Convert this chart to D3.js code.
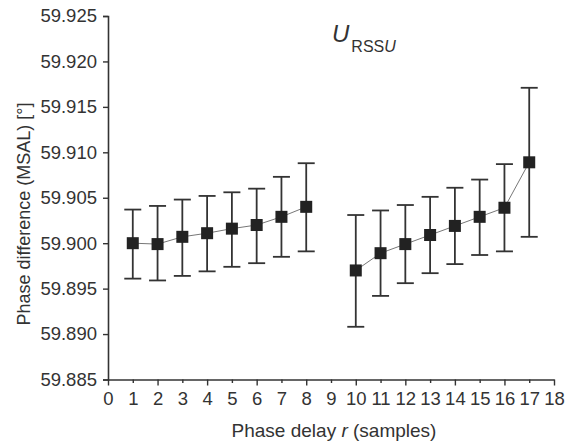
<!DOCTYPE html>
<html>
<head>
<meta charset="utf-8">
<script src="https://cdn.jsdelivr.net/npm/d3@7"></script>
<style>
  html, body { margin: 0; padding: 0; background: #fff; }
  svg text { font-family: "Liberation Sans", Arial, sans-serif; fill: #333; }
</style>
</head>
<body>
<svg id="chart" width="566" height="446"></svg>
<script>
// ============ Data ============
const delays  = [1, 2, 3, 4, 5, 6, 7, 8, 10, 11, 12, 13, 14, 15, 16, 17];
const means   = [59.9000, 59.8999, 59.9007, 59.9011, 59.9016, 59.9020, 59.9029, 59.9040,
                 59.8970, 59.8989, 59.8999, 59.9009, 59.9019, 59.9029, 59.9039, 59.9089];
const lowers  = [59.8961, 59.8959, 59.8964, 59.8969, 59.8974, 59.8978, 59.8985, 59.8991,
                 59.8908, 59.8942, 59.8956, 59.8967, 59.8977, 59.8987, 59.8991, 59.9007];
const uppers  = [59.9037, 59.9041, 59.9048, 59.9052, 59.9056, 59.9060, 59.9073, 59.9088,
                 59.9031, 59.9036, 59.9042, 59.9051, 59.9061, 59.9070, 59.9087, 59.9171];
const yTicks  = [59.885, 59.890, 59.895, 59.900, 59.905, 59.910, 59.915, 59.920, 59.925];
const xTicks  = d3.range(0, 19);
// line breaks between r = 8 and r = 10
const groups  = [[0, 8], [8, 16]];

// ============ Layout ============
const plotL = 108, plotR = 554, plotT = 16, plotB = 379.5;
const svg = d3.select("#chart");

const x = d3.scaleLinear().domain([0, 18]).range([plotL, plotR]);
const y = d3.scaleLinear().domain([59.885, 59.925]).range([plotB, plotT]);

const points = delays.map((d, i) => ({ r: d, m: means[i], lo: lowers[i], hi: uppers[i] }));

// ---- Axes ----
const xAxis = d3.axisBottom(x)
  .tickValues(xTicks)
  .tickFormat(d3.format("d"))
  .tickSize(0)
  .tickPadding(12);
const gx = svg.append("g").attr("transform", `translate(0,${plotB})`).call(xAxis);
gx.select(".domain").attr("stroke", "#333").attr("stroke-width", 1.6);
gx.selectAll(".tick line").remove();
gx.selectAll(".tick").append("line")
  .attr("y2", d => d % 2 === 0 ? 6 : 3.5)
  .attr("stroke", "#333").attr("stroke-width", 1.4);
gx.selectAll("text").attr("font-size", 18.5).attr("fill", "#333");

const yAxis = d3.axisLeft(y)
  .tickValues(yTicks)
  .tickFormat(d3.format(".3f"))
  .tickSize(5)
  .tickPadding(6);
const gy = svg.append("g").attr("transform", `translate(${plotL},0)`).call(yAxis);
gy.select(".domain").attr("stroke", "#333").attr("stroke-width", 1.6);
gy.selectAll(".tick line").attr("stroke", "#333").attr("stroke-width", 1.4);
gy.selectAll("text").attr("font-size", 18.5).attr("fill", "#333");

// ---- Axis titles ----
const xTitle = svg.append("text")
  .attr("x", 334).attr("y", 437)
  .attr("text-anchor", "middle")
  .attr("font-size", 19);
xTitle.append("tspan").text("Phase delay ");
xTitle.append("tspan").attr("font-style", "italic").text("r");
xTitle.append("tspan").text(" (samples)");

svg.append("text")
  .attr("transform", "translate(30,214) rotate(-90)")
  .attr("text-anchor", "middle")
  .attr("font-size", 18)
  .text("Phase difference (MSAL) [°]");

// ---- Title ----
const title = svg.append("text").attr("x", 332).attr("y", 42);
title.append("tspan").attr("font-size", 24).attr("font-style", "italic").text("U");
title.append("tspan").attr("font-size", 16).attr("dy", 10).attr("dx", 2).text("RSS");
title.append("tspan").attr("font-size", 16).attr("font-style", "italic").text("U");

// ---- Connecting lines ----
const line = d3.line().x(d => x(d.r)).y(d => y(d.m));
groups.forEach(([a, b]) => {
  svg.append("path")
    .datum(points.slice(a, b))
    .attr("d", line)
    .attr("fill", "none")
    .attr("stroke", "#777")
    .attr("stroke-width", 1);
});

// ---- Error bars ----
const capW = 8.5;
const eb = svg.append("g").attr("stroke", "#333").attr("stroke-width", 1.8);
eb.selectAll("line.v").data(points).enter().append("line")
  .attr("x1", d => x(d.r)).attr("x2", d => x(d.r))
  .attr("y1", d => y(d.lo)).attr("y2", d => y(d.hi));
eb.selectAll("line.hi").data(points).enter().append("line")
  .attr("x1", d => x(d.r) - capW).attr("x2", d => x(d.r) + capW)
  .attr("y1", d => y(d.hi)).attr("y2", d => y(d.hi));
eb.selectAll("line.lo").data(points).enter().append("line")
  .attr("x1", d => x(d.r) - capW).attr("x2", d => x(d.r) + capW)
  .attr("y1", d => y(d.lo)).attr("y2", d => y(d.lo));

// ---- Markers ----
const sz = 12;
svg.append("g").selectAll("rect").data(points).enter().append("rect")
  .attr("x", d => x(d.r) - sz / 2)
  .attr("y", d => y(d.m) - sz / 2)
  .attr("width", sz).attr("height", sz)
  .attr("fill", "#222");
</script>
</body>
</html>
